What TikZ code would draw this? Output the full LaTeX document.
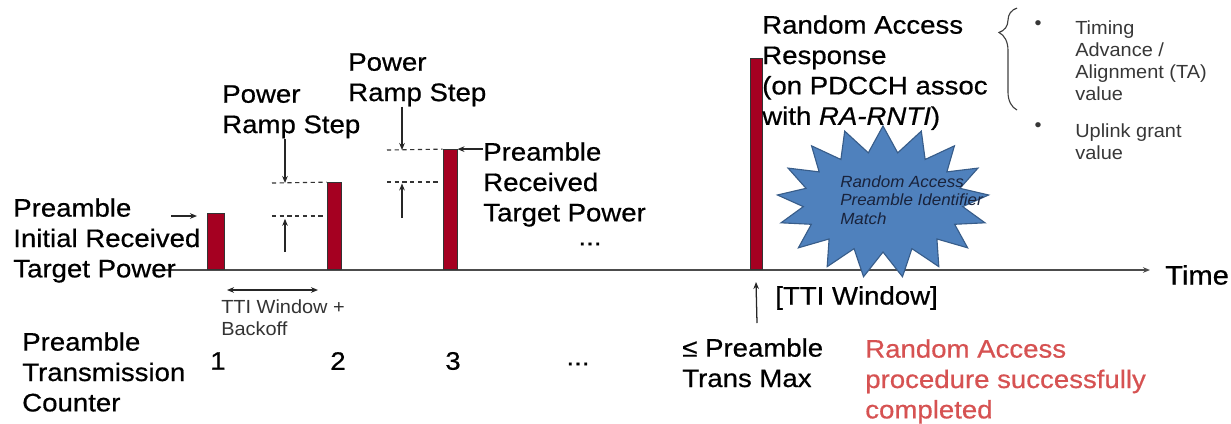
\documentclass[tikz,border=0pt]{standalone}
\usepackage{fontspec}
\setmainfont{Liberation Sans}[FakeStretch=1.09, FakeBold=0.6]
\newfontfamily\smallfont{Liberation Sans}[FakeStretch=1.05]
\usetikzlibrary{shapes.symbols, decorations.pathreplacing, arrows.meta}

\definecolor{barred}{RGB}{165,0,33}
\definecolor{burstblue}{RGB}{79,129,189}
\definecolor{burstedge}{RGB}{56,93,138}
\definecolor{donered}{RGB}{214,82,82}
\definecolor{smallgray}{RGB}{55,55,55}
\definecolor{matchtext}{RGB}{25,35,60}

\begin{document}
\begin{tikzpicture}[x=0.025cm, y=-0.025cm,
				bar/.style={draw=black!80, fill=barred, line width=0.6pt, anchor=south, inner sep=0pt},
				lbl/.style={anchor=north west, inner sep=0pt, align=left, font=\fontsize{18}{21.6}\selectfont},
				small/.style={anchor=north west, inner sep=0pt, align=left, font=\smallfont\fontsize{13.5}{15.8}\selectfont, text=smallgray},
				arr/.style={-{Stealth[length=5pt, width=4pt]}, line width=0.9pt, black!85},
				dbl/.style={{Stealth[length=5pt, width=4pt]}-{Stealth[length=5pt, width=4pt]}, line width=0.9pt, black!85},
				dashline/.style={dash pattern=on 3pt off 2.5pt, line width=0.8pt, black!80},
				brace/.style={decorate, decoration={brace, amplitude=0.45cm, aspect=0.76}, line width=0.8pt, black!75},
				burst/.style={starburst, random starburst=0, draw=burstedge, fill=burstblue, line width=0.8pt, minimum width=5.3cm, minimum height=3.8cm, starburst points=17, starburst point height=0.65cm}
				]
				
				\useasboundingbox (0,0) rectangle (1231,423);
				
				% time axis
				\node[lbl, anchor=west, font=\fontsize{19}{22}\selectfont] (time) at (1165,275) {Time};
				\coordinate (t0) at (163,270);
				\draw[arr, line width=1pt, black!70] (t0) -- ([xshift=-0.375cm]t0 -| time.west);
				
				\node[burst] (burst) at (883,202) {};
				
				\node[bar, minimum width=0.425cm, minimum height=1.4cm] (b1) at (215.5,270) {};
				\node[bar, minimum width=0.35cm, minimum height=2.175cm] (b2) at (334,270) {};
				\node[bar, minimum width=0.35cm, minimum height=3.0cm] (b3) at (450,270) {};
				\node[bar, minimum width=0.3cm, minimum height=5.275cm] (b4) at (756,270) {};
				
				\node[lbl] (initpow) at (13,198) {Preamble\\Initial Received\\Target Power};
				\node[lbl] (step1) at (222,85) {Power\\Ramp Step};
				\node[lbl] (step2) at (348,53) {Power\\Ramp Step};
				\node[lbl] (rxpow) at (483,142) {Preamble\\Received\\Target Power};
				\node[lbl, anchor=center] (dots1) at (590,244) {...};
				\node[lbl] (rar) at (762,15) {Random Access\\Response\\(on PDCCH assoc\\with \textit{RA-RNTI})};
				
				\node[anchor=north west, inner sep=0pt, align=left, font=\smallfont\fontsize{11.5}{13.4}\selectfont\itshape, text=matchtext] (match) at (840,175) {Random Access\\Preamble Identifier\\Match};
				
				% ramp steps
				\coordinate (ia) at (171,216);
				\coordinate (iaend) at (197,216);
				\draw[arr] (ia) -- (iaend);
				
				\coordinate (s1hi) at (272,183);
				\coordinate (s1lo) at (272,216);
				\coordinate (s1loend) at (323,216);
				\coordinate (up1) at (285,252);
				\draw[dashline] (s1hi) -- (b2.north west);
				\draw[dashline] (s1lo) -- (s1loend);
				\draw[arr] (step1.south -| up1) -- (up1 |- s1hi);
				\draw[arr] (up1) -- ([yshift=-2pt]up1 |- s1lo);
				
				\coordinate (s2hi) at (387,150);
				\coordinate (s2lo) at (387,182);
				\coordinate (s2loend) at (440,182);
				\coordinate (up2) at (402,218);
				\draw[dashline] (s2hi) -- (b3.north west);
				\draw[dashline] (s2lo) -- (s2loend);
				\draw[arr] (step2.south -| up2) -- (up2 |- s2hi);
				\draw[arr] (up2) -- ([yshift=-1pt]up2 |- s2lo);
				
				\draw[arr] (rxpow.west |- b3.north) -- (b3.north east);
				
				% RAR contents
				\coordinate (br0) at (1017,110);
				\coordinate (br1) at (1017,8);
				\draw[brace] (br0) -- (br1);
				\node[small, anchor=center] (bul1) at (1038,25) {\textbullet};
				\node[small] (ta) at (1075,20) {Timing\\Advance /\\Alignment (TA)\\value};
				\node[small, anchor=center] (bul2) at (1038,127) {\textbullet};
				\node[small] (grant) at (1075,123) {Uplink grant\\value};
				
				% below the axis
				\coordinate (w0) at (227,290);
				\coordinate (w1) at (318,290);
				\draw[dbl] (w0) -- (w1);
				\node[small, text=black!80] (tti) at (221,299) {TTI Window +\\Backoff};
				
				\node[lbl] (counter) at (22,332) {Preamble\\Transmission\\Counter};
				\node[lbl, anchor=center] (n1) at (218,361) {1};
				\node[lbl, anchor=center] (n2) at (338,361) {2};
				\node[lbl, anchor=center] (n3) at (453,361) {3};
				\node[lbl, anchor=center] (dots2) at (578,364) {...};
				
				\coordinate (tw) at (757,323);
				\draw[arr] (tw) -- ([yshift=-0.3cm]b4.south);
				\node[lbl, anchor=west] (ttiwin) at (775,298) {[TTI Window]};
				\node[lbl] (transmax) at (682,338) {≤ Preamble\\Trans Max};
				\node[lbl, text=donered] (done) at (865,339) {Random Access\\procedure successfully\\completed};
				
			\end{tikzpicture}
\end{document}
